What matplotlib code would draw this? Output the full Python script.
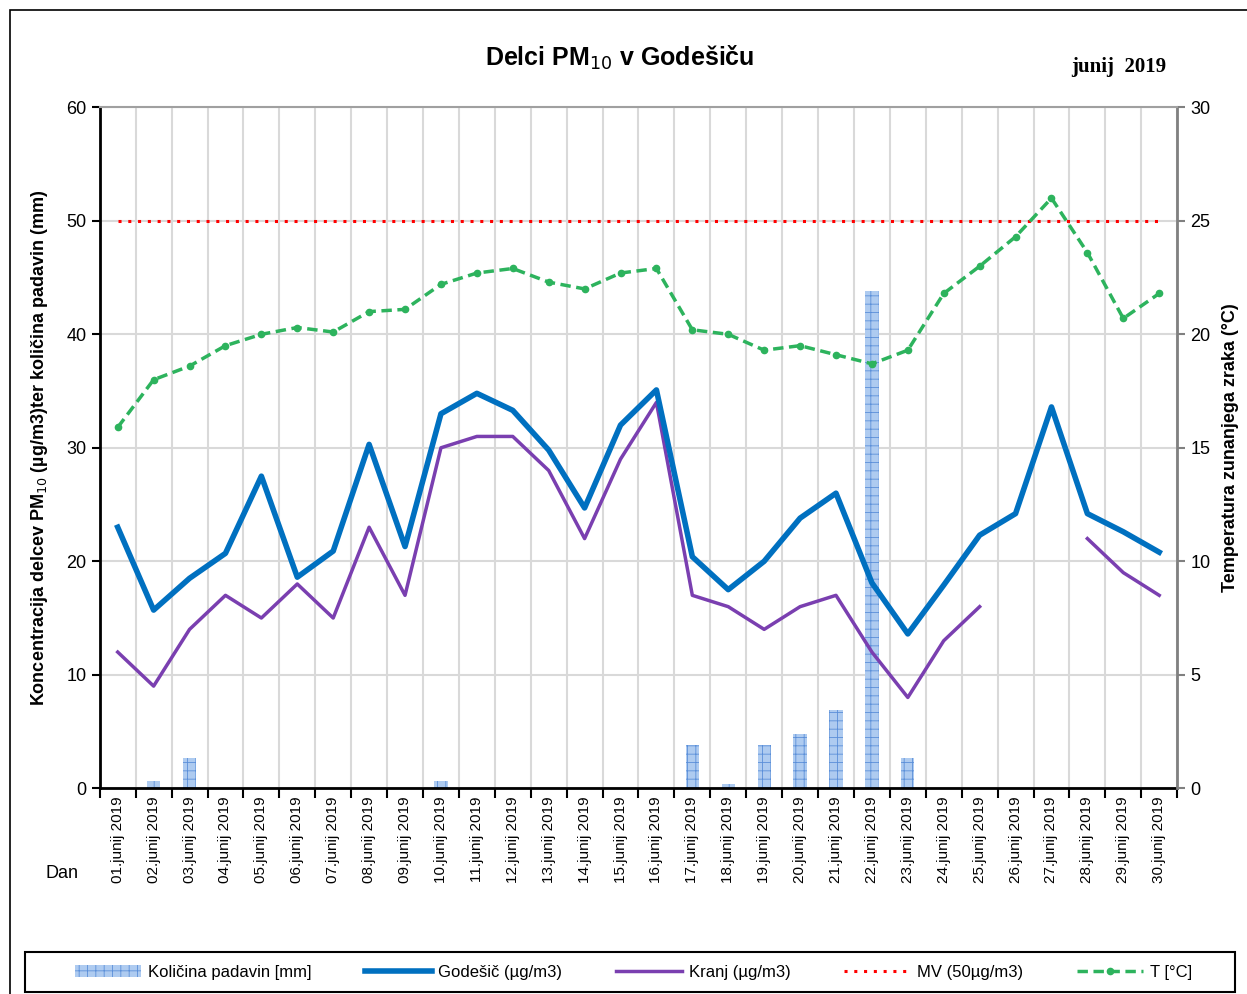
import numpy as np
import matplotlib.pyplot as plt
from matplotlib.patches import Rectangle
from matplotlib.ticker import FixedLocator

plt.rcParams['font.family'] = ['Liberation Sans', 'DejaVu Sans']
plt.rcParams['hatch.linewidth'] = 0.6

dnevi = [f"{d:02d}.junij 2019" for d in range(1, 31)]

padavine = [0, 0.6, 2.7, 0, 0, 0, 0, 0, 0, 0.6,
            0, 0, 0, 0, 0, 0, 3.8, 0.4, 3.8, 4.8,
            6.9, 43.8, 2.7, 0, 0, 0, 0, 0, 0, 0]

godesic = [23.0, 15.7, 18.5, 20.7, 27.5, 18.6, 20.9, 30.3, 21.3, 33.0,
           34.8, 33.3, 29.8, 24.7, 32.0, 35.1, 20.4, 17.5, 20.0, 23.8,
           26.0, 18.1, 13.6, 17.9, 22.3, 24.2, 33.6, 24.2, 22.6, 20.8]

kranj = [12, 9, 14, 17, 15, 18, 15, 23, 17, 30,
         31, 31, 28, 22, 29, 34, 17, 16, 14, 16,
         17, 12, 8, 13, 16, np.nan, np.nan, 22, 19, 17]

mv = [50] * 30

temperatura = [15.9, 18.0, 18.6, 19.5, 20.0, 20.3, 20.1, 21.0, 21.1, 22.2,
               22.7, 22.9, 22.3, 22.0, 22.7, 22.9, 20.2, 20.0, 19.3, 19.5,
               19.1, 18.7, 19.3, 21.8, 23.0, 24.3, 26.0, 23.6, 20.7, 21.8]

x = np.arange(len(dnevi))

fig = plt.figure(figsize=(12.47, 9.94), dpi=100)
ax = fig.add_axes([0.080, 0.207, 0.864, 0.685])
ax2 = ax.twinx()

bars = ax.bar(x, padavine, width=0.37, color='#aecbf0', edgecolor='#5b8fd9',
              hatch='++', linewidth=0, label='Količina padavin [mm]', zorder=2)
l_god, = ax.plot(x, godesic, color='#0070c0', lw=4, label='Godešič (µg/m3)', zorder=4)
l_kr, = ax.plot(x, kranj, color='#7a3fb0', lw=2.5, label='Kranj (µg/m3)', zorder=3)
l_mv, = ax.plot(x, mv, color='#ff0000', lw=2.2, linestyle=(0, (1, 2.2)),
                label='MV (50µg/m3)', zorder=3)
l_t, = ax2.plot(x, temperatura, color='#2db35d', lw=2.5, linestyle=(0, (3, 1.6)),
                marker='o', markersize=4.5, markerfacecolor='#2db35d',
                markeredgecolor='#2db35d', label='T [°C]')

ax.set_xlim(-0.5, 29.5)
ax.set_ylim(0, 60)
ax2.set_ylim(0, 30)
ax.set_yticks(range(0, 61, 10))
ax2.set_yticks(range(0, 31, 5))

ax.xaxis.set_major_locator(FixedLocator(np.arange(-0.5, 30, 1)))
ax.set_xticklabels([])
ax.set_xticks(x, minor=True)
ax.set_xticklabels(dnevi, minor=True, rotation=90, fontsize=11)
ax.tick_params(axis='x', which='minor', length=0, pad=6)
ax.tick_params(axis='x', which='major', length=7, width=1.5, direction='out')
ax.tick_params(axis='y', length=6, width=1.5, labelsize=13)
ax2.tick_params(axis='y', length=6, width=1.5, labelsize=13, color='#808080')

ax.grid(True, which='major', color='#d9d9d9', lw=1.5, zorder=0)
ax.set_axisbelow(True)

for s in ['left', 'bottom']:
    ax.spines[s].set_linewidth(2)
    ax.spines[s].set_color('black')
ax2.spines['left'].set_visible(False)
ax2.spines['bottom'].set_visible(False)
ax2.spines['right'].set_color('#808080')
ax2.spines['right'].set_linewidth(2)
ax2.spines['top'].set_color('#a0a0a0')
ax2.spines['top'].set_linewidth(1.5)
ax.spines['top'].set_visible(False)
ax.spines['right'].set_visible(False)

ax.set_ylabel('Koncentracija delcev PM$_{10}$ (µg/m3)ter količina padavin (mm)',
              fontsize=13, fontweight='bold', labelpad=12)
ax2.set_ylabel('Temperatura zunanjega zraka (°C)', fontsize=13, fontweight='bold', labelpad=8)

fig.text(0.497, 0.942, 'Delci PM$_{10}$ v Godešiču', ha='center', va='center',
         fontsize=18, fontweight='bold')
fig.text(0.897, 0.933, 'junij  2019', ha='center', va='center', fontsize=15,
         fontweight='bold', family='Liberation Serif')
fig.text(0.050, 0.121, 'Dan', ha='center', va='center', fontsize=13)

# legenda brez okvirja, okvir narisan posebej
leg = fig.legend(handles=[bars, l_god, l_kr, l_mv, l_t], ncol=5,
                 loc='center', bbox_to_anchor=(0.508, 0.022), fontsize=12,
                 frameon=False, handlelength=4.0, columnspacing=3.2,
                 handletextpad=0.4)

fig.patches.append(Rectangle((0.020, 0.002), 0.970, 0.040, transform=fig.transFigure,
                             fill=False, edgecolor='black', lw=1.5))
fig.patches.append(Rectangle((0.008, -0.01), 1.0, 1.0, transform=fig.transFigure,
                             fill=False, edgecolor='black', lw=1.2))

fig.savefig('out.png', dpi=100)
